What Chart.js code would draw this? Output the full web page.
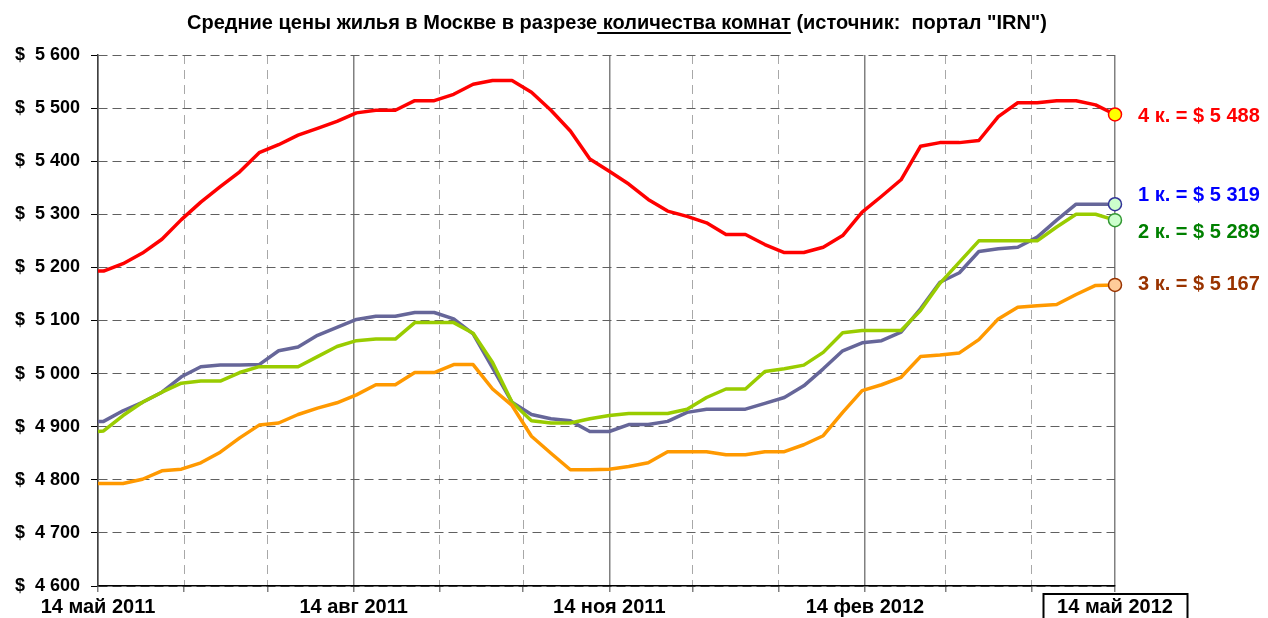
<!DOCTYPE html>
<html lang="ru">
<head>
<meta charset="utf-8">
<title>Средние цены жилья в Москве</title>
<script src="https://cdn.jsdelivr.net/npm/chart.js@4.4.1/dist/chart.umd.min.js"></script>
<style>
    html, body { margin: 0; padding: 0; background: #fff; }
    #wrap { position: relative; width: 1268px; height: 618px; overflow: hidden; }
    #chart { position: absolute; left: 0; top: 0; }
    #title {
        position: absolute; left: 187px; top: 12px; white-space: nowrap;
        font: bold 20px/20px "Liberation Sans", Arial, sans-serif; color: #000;
    }
    #title u { text-decoration-thickness: 2px; text-underline-offset: 3px; }
</style>
</head>
<body>
<div id="wrap">
    <canvas id="chart" width="1268" height="618"></canvas>
    <div id="title">Средние цены жилья в Москве в разрезе<u> количества комнат</u> (источник:&nbsp; портал "IRN")</div>
</div>
<script>
// ─── Data (weekly, USD per sq. m) ─────────────────────────────────
const dates = [
    '2011-05-14', '2011-05-16', '2011-05-23', '2011-05-30', '2011-06-06', '2011-06-13',
    '2011-06-20', '2011-06-27', '2011-07-04', '2011-07-11', '2011-07-18', '2011-07-25',
    '2011-08-01', '2011-08-08', '2011-08-15', '2011-08-22', '2011-08-29', '2011-09-05',
    '2011-09-12', '2011-09-19', '2011-09-26', '2011-10-03', '2011-10-10', '2011-10-17',
    '2011-10-24', '2011-10-31', '2011-11-07', '2011-11-14', '2011-11-21', '2011-11-28',
    '2011-12-05', '2011-12-12', '2011-12-19', '2011-12-26', '2012-01-02', '2012-01-09',
    '2012-01-16', '2012-01-23', '2012-01-30', '2012-02-06', '2012-02-13', '2012-02-20',
    '2012-02-27', '2012-03-05', '2012-03-12', '2012-03-19', '2012-03-26', '2012-04-02',
    '2012-04-09', '2012-04-16', '2012-04-23', '2012-04-30', '2012-05-07', '2012-05-14',
];

const room1 = [
    4910, 4910, 4930, 4946, 4965, 4994, 5013, 5016, 5016, 5017,
    5043, 5050, 5072, 5087, 5102, 5108, 5108, 5115, 5115, 5103,
    5075, 5011, 4946, 4923, 4915, 4911, 4891, 4891, 4904, 4904,
    4910, 4927, 4933, 4933, 4933, 4944, 4955, 4977, 5009, 5043,
    5058, 5062, 5078, 5122, 5172, 5190, 5230, 5235, 5238, 5257,
    5289, 5319, 5319, 5319,
];
const room2 = [
    4891, 4892, 4921, 4946, 4965, 4982, 4986, 4986, 5002, 5013,
    5013, 5013, 5032, 5051, 5062, 5065, 5065, 5096, 5096, 5096,
    5076, 5021, 4946, 4911, 4907, 4907, 4915, 4921, 4925, 4925,
    4925, 4933, 4955, 4971, 4971, 5004, 5009, 5016, 5040, 5077,
    5081, 5081, 5081, 5119, 5170, 5210, 5250, 5250, 5250, 5250,
    5276, 5300, 5300, 5289,
];
const room3 = [
    4793, 4793, 4793, 4801, 4817, 4820, 4832, 4852, 4879, 4903,
    4907, 4923, 4935, 4945, 4960, 4979, 4979, 5002, 5002, 5017,
    5017, 4971, 4940, 4882, 4850, 4819, 4819, 4820, 4825, 4832,
    4853, 4853, 4853, 4847, 4847, 4853, 4853, 4866, 4883, 4927,
    4968, 4979, 4993, 5032, 5035, 5039, 5064, 5103, 5125, 5128,
    5130, 5149, 5166, 5167,
];
const room4 = [
    5193, 5193, 5207, 5227, 5253, 5290, 5323, 5352, 5380, 5416,
    5431, 5449, 5462, 5475, 5491, 5496, 5496, 5514, 5514, 5526,
    5545, 5552, 5552, 5530, 5496, 5457, 5404, 5381, 5357, 5328,
    5306, 5296, 5284, 5262, 5262, 5243, 5228, 5228, 5238, 5260,
    5304, 5334, 5365, 5428, 5435, 5435, 5439, 5484, 5510, 5510,
    5514, 5514, 5506, 5488,
];

// month grid (every 14th), labels on the quarters only
const monthTicks = [
    '2011-05-14', '2011-06-14', '2011-07-14', '2011-08-14', '2011-09-14', '2011-10-14',
    '2011-11-14', '2011-12-14', '2012-01-14', '2012-02-14', '2012-03-14', '2012-04-14',
    '2012-05-14',
];
const monthLabels = [
    '14 май 2011', '', '', '14 авг 2011', '', '', '14 ноя 2011', '', '',
    '14 фев 2012', '', '', '14 май 2012',
];

const yMin = 4600;
const yMax = 5600;
const yStep = 100;

// ─── Styles ───────────────────────────────────────────────────────
const FONT_FAMILY = '"Liberation Sans", Arial, sans-serif';
const Y_FONT = { family: FONT_FAMILY, size: 18, weight: 'bold' };
const X_FONT = { family: FONT_FAMILY, size: 20, weight: 'bold' };

// drawn top-first: 3 к. on top, 4 к. underneath
const SERIES = [
    { label: '3 к.', values: room3, line: '#ff9900', dot: '#ffcc99', edge: '#993300', text: '#993300', shift: 0 },
    { label: '2 к.', values: room2, line: '#99cc00', dot: '#ccffcc', edge: '#339933', text: '#008000', shift: 12 },
    { label: '1 к.', values: room1, line: '#666699', dot: '#ccffcc', edge: '#333399', text: '#0000ff', shift: -9 },
    { label: '4 к.', values: room4, line: '#ff0000', dot: '#ffff00', edge: '#ff0000', text: '#ff0000', shift: 2 },
];

// ─── Helpers ──────────────────────────────────────────────────────
const DAY0 = toDay('2011-05-14');

function toDay(str) {
    const [y, m, d] = str.split('-').map(Number);
    return Date.UTC(y, m - 1, d) / 86400000;
}

function dayOf(str) {
    return toDay(str) - DAY0;
}

function money(v, gap = '  ') {
    const th = Math.floor(v / 1000);
    const rest = String(Math.round(v % 1000)).padStart(3, '0');
    return `$${gap}${th} ${rest}`;
}

const monthDays = monthTicks.map(dayOf);
const minorDays = monthDays.filter((d, i) => monthLabels[i] === '');

// ─── Plugins ──────────────────────────────────────────────────────
const endLabels = {
    id: 'endLabels',
    afterDatasetsDraw(chart) {
        const ctx = chart.ctx;
        ctx.save();
        ctx.font = `bold 20px ${FONT_FAMILY}`;
        ctx.textBaseline = 'middle';
        ctx.textAlign = 'left';
        chart.data.datasets.forEach((ds, i) => {
            const meta = chart.getDatasetMeta(i);
            const pt = meta.data[meta.data.length - 1];
            const last = ds.data[ds.data.length - 1].y;
            ctx.fillStyle = ds.labelColor;
            ctx.fillText(`${ds.label} = ${money(last, ' ')}`, pt.x + 23, pt.y + ds.labelShift);
        });
        ctx.restore();
    },
};

const lastTickBox = {
    id: 'lastTickBox',
    afterDraw(chart) {
        const xs = chart.scales.x;
        const ctx = chart.ctx;
        const px = xs.getPixelForValue(xs.max);
        ctx.save();
        ctx.font = `bold ${X_FONT.size}px ${FONT_FAMILY}`;
        const w = ctx.measureText(monthLabels[monthLabels.length - 1]).width;
        ctx.strokeStyle = '#000';
        ctx.lineWidth = 2;
        ctx.strokeRect(Math.round(px - w / 2 - 14) + 0.5, xs.top + 8, Math.round(w + 28), 40);
        ctx.restore();
    },
};

// ─── Chart ────────────────────────────────────────────────────────
const lastIndex = dates.length - 1;

const datasets = SERIES.map(s => ({
    label: s.label,
    data: dates.map((d, i) => ({ x: dayOf(d), y: s.values[i] })),
    borderColor: s.line,
    borderWidth: 3.5,
    borderJoinStyle: 'round',
    tension: 0,
    clip: false,
    pointRadius: ctx => (ctx.dataIndex === lastIndex ? 6.5 : 0),
    pointHoverRadius: ctx => (ctx.dataIndex === lastIndex ? 6.5 : 0),
    pointBackgroundColor: s.dot,
    pointBorderColor: s.edge,
    pointBorderWidth: 1.5,
    labelColor: s.text,
    labelShift: s.shift,
}));

new Chart(document.getElementById('chart'), {
    type: 'line',
    data: { datasets },
    options: {
        responsive: false,
        animation: false,
        events: [],
        layout: { padding: { left: 0, top: 55, right: 153, bottom: 0 } },
        plugins: {
            legend: { display: false },
            tooltip: { enabled: false },
            title: { display: false },
        },
        scales: {
            x: {
                type: 'linear',
                position: 'bottom',
                min: 0,
                max: monthDays[monthDays.length - 1],
                afterBuildTicks: s => { s.ticks = monthDays.map(v => ({ value: v })); },
                afterFit: s => { s.height = 32; },
                ticks: {
                    autoSkip: false,
                    maxRotation: 0,
                    padding: 3,
                    color: '#000',
                    font: X_FONT,
                    callback: (v, i) => monthLabels[i],
                },
                grid: {
                    color: c => (monthLabels[c.index] ? '#808080' : 'rgba(0,0,0,0)'),
                    lineWidth: 1.5,
                    tickColor: '#808080',
                    tickLength: 6,
                },
                border: { color: '#000', width: 1.5 },
            },
            xm: {
                type: 'linear',
                position: 'top',
                min: 0,
                max: monthDays[monthDays.length - 1],
                afterBuildTicks: s => { s.ticks = minorDays.map(v => ({ value: v })); },
                afterFit: s => { s.height = 0; },
                ticks: { display: false },
                grid: { color: '#a8a8a8', lineWidth: 1, drawTicks: false },
                border: { display: false, dash: [9, 6] },
            },
            y: {
                min: yMin,
                max: yMax,
                afterFit: s => { s.width = 98; },
                ticks: {
                    stepSize: yStep,
                    padding: 11,
                    color: '#000',
                    font: Y_FONT,
                    callback: v => money(v),
                },
                grid: { color: '#606060', lineWidth: 1, tickColor: '#000', tickLength: 7 },
                border: { color: '#404040', width: 1.5, dash: [9, 5] },
            },
        },
    },
    plugins: [endLabels, lastTickBox],
});
</script>
</body>
</html>
